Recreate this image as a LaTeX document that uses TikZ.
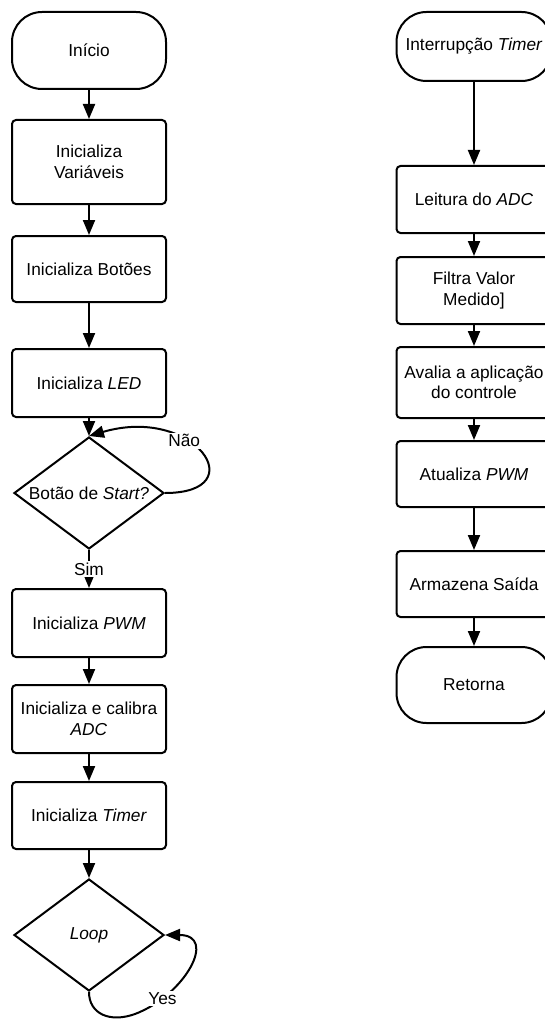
\documentclass[tikz,border=0pt]{standalone}
\usepackage{fontspec}
\setmainfont{Liberation Sans}
\usetikzlibrary{arrows.meta,shapes.geometric}
\begin{document}
\begin{tikzpicture}[x=1pt,y=-1pt,line width=2pt,
  font=\fontsize{17.3}{20.5}\selectfont,
  proc/.style={draw, fill=white, rounded corners=4pt, minimum width=154pt, align=center, inner sep=0pt},
  term/.style={draw, fill=white, rounded corners=30pt, minimum width=154pt, align=center, inner sep=0pt},
  dec/.style={draw, fill=white, diamond, aspect=1.34, minimum width=150pt, minimum height=112pt, inner sep=0pt},
  arr/.style={-{Triangle[length=15pt,width=12pt]}},
  lbl/.style={fill=white, inner sep=1.5pt}]
\clip (0,0) rectangle (545,1019);
\fill[white] (0,0) rectangle (545,1019);

% main program
\node[term, minimum height=77pt] (start) at (89,50.5) {Início};
\node[proc, minimum height=84pt] (vars) at (89,162) {Inicializa\\Variáveis};
\node[proc, minimum height=66pt] (btn) at (89,269) {Inicializa Botões};
\node[proc, minimum height=68pt] (led) at (89,383) {Inicializa \textit{LED}};
\node[dec] (d1) at (89,493) {Botão de \textit{Start?}};
\node[proc, minimum height=68pt] (pwm) at (89,623) {Inicializa \textit{PWM}};
\node[proc, minimum height=68pt] (adc) at (89,719) {Inicializa e calibra\\\textit{ADC}};
\node[proc, minimum height=67pt] (tim) at (89,815.5) {Inicializa \textit{Timer}};
\node[dec] (d2) at (89,935) {\textit{Loop}};

\draw[arr] (start) -- (vars);
\draw[arr] (vars) -- (btn);
\draw[arr] (btn) -- (led);
\draw[arr] (led) -- (d1.north);
\draw[arr] (d1.east) .. controls (255,493) and (195,405) .. node[pos=0.62,lbl]{Não} (d1.north);
\draw[arr] (d1.south) -- node[lbl]{Sim} (pwm.north);
\draw[arr] (pwm) -- (adc);
\draw[arr] (adc) -- (tim);
\draw[arr] (tim) -- (d2.north);
\coordinate (yb) at (135,1014);
\draw[arr] (d2.south) .. controls (89,1014) and (110,1023) .. (yb)
  .. controls (185,995) and (218,935) .. node[pos=0.2,lbl]{Yes} (d2.east);

% timer interrupt routine
\node[term, minimum width=155pt, minimum height=69pt] (int) at (474,46.5) {Interrupção \textit{Timer}};
\node[proc, minimum width=155pt, minimum height=67pt] (lad) at (474,199.5) {Leitura do \textit{ADC}};
\node[proc, minimum width=155pt, minimum height=67pt] (fil) at (474,290.5) {Filtra Valor\\Medido]};
\node[proc, minimum width=155pt, minimum height=71pt] (ava) at (474,382.5) {Avalia a aplicação\\do controle};
\node[proc, minimum width=155pt, minimum height=66pt] (atu) at (474,474) {Atualiza \textit{PWM}};
\node[proc, minimum width=155pt, minimum height=66pt] (arm) at (474,584) {Armazena Saída};
\node[term, minimum width=155pt, minimum height=76pt] (ret) at (474,685) {Retorna};

\draw[arr] (int) -- (lad);
\draw[arr] (lad) -- (fil);
\draw[arr] (fil) -- (ava);
\draw[arr] (ava) -- (atu);
\draw[arr] (atu) -- (arm);
\draw[arr] (arm) -- (ret);
\end{tikzpicture}
\end{document}
